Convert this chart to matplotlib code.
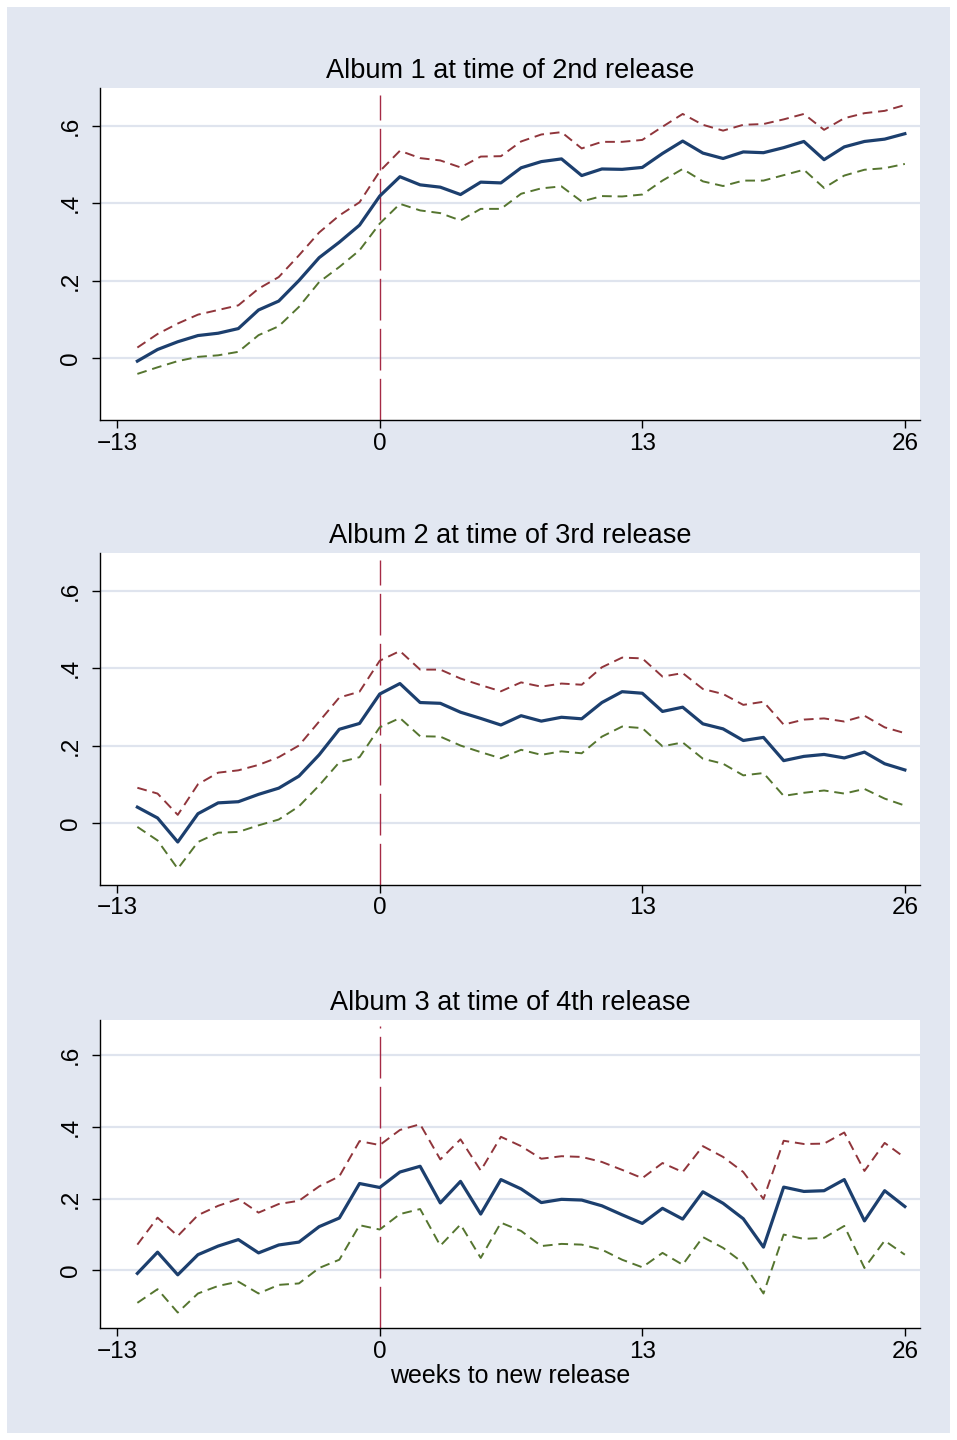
import matplotlib.pyplot as plt
from matplotlib.patches import Rectangle
import numpy as np

plt.rcParams['font.family'] = ['Liberation Sans', 'DejaVu Sans']

weeks = np.arange(-12, 27)

titles = ['Album 1 at time of 2nd release',
          'Album 2 at time of 3rd release',
          'Album 3 at time of 4th release']

est1 = [-0.008, 0.022, 0.042, 0.058, 0.064, 0.076, 0.124, 0.147, 0.200, 0.259,
        0.299, 0.343, 0.418, 0.468, 0.447, 0.441, 0.422, 0.454, 0.452, 0.491,
        0.507, 0.514, 0.471, 0.488, 0.487, 0.492, 0.528, 0.560, 0.529, 0.515,
        0.532, 0.530, 0.543, 0.559, 0.512, 0.545, 0.559, 0.565, 0.579]
hi1 = [0.027, 0.062, 0.089, 0.112, 0.124, 0.136, 0.179, 0.209, 0.265, 0.324,
       0.368, 0.402, 0.482, 0.535, 0.516, 0.510, 0.492, 0.520, 0.521, 0.559,
       0.577, 0.583, 0.541, 0.558, 0.558, 0.563, 0.597, 0.630, 0.602, 0.587,
       0.602, 0.604, 0.616, 0.630, 0.589, 0.619, 0.632, 0.638, 0.653]
lo1 = [-0.041, -0.024, -0.008, 0.003, 0.007, 0.016, 0.059, 0.082, 0.132, 0.196,
       0.235, 0.278, 0.347, 0.398, 0.381, 0.374, 0.355, 0.385, 0.385, 0.424,
       0.438, 0.443, 0.404, 0.418, 0.417, 0.422, 0.458, 0.488, 0.456, 0.444,
       0.458, 0.458, 0.472, 0.486, 0.439, 0.471, 0.486, 0.490, 0.501]

est2 = [0.041, 0.013, -0.049, 0.024, 0.052, 0.055, 0.074, 0.090, 0.121, 0.176,
        0.242, 0.257, 0.333, 0.360, 0.311, 0.309, 0.286, 0.270, 0.253, 0.277,
        0.263, 0.273, 0.269, 0.311, 0.339, 0.335, 0.288, 0.299, 0.256, 0.243,
        0.213, 0.221, 0.161, 0.172, 0.177, 0.168, 0.183, 0.153, 0.137]
hi2 = [0.091, 0.076, 0.021, 0.100, 0.130, 0.136, 0.150, 0.170, 0.200, 0.262,
       0.324, 0.339, 0.419, 0.444, 0.396, 0.396, 0.373, 0.356, 0.340, 0.363,
       0.352, 0.360, 0.357, 0.402, 0.427, 0.425, 0.378, 0.387, 0.346, 0.333,
       0.305, 0.313, 0.254, 0.267, 0.270, 0.262, 0.277, 0.247, 0.232]
lo2 = [-0.010, -0.045, -0.118, -0.049, -0.025, -0.023, -0.006, 0.009, 0.043, 0.097,
       0.157, 0.170, 0.247, 0.271, 0.224, 0.223, 0.200, 0.183, 0.167, 0.189,
       0.176, 0.185, 0.180, 0.223, 0.249, 0.245, 0.198, 0.208, 0.166, 0.153,
       0.123, 0.129, 0.070, 0.078, 0.084, 0.076, 0.088, 0.063, 0.045]

est3 = [-0.008, 0.051, -0.012, 0.044, 0.068, 0.086, 0.049, 0.071, 0.079, 0.122,
        0.146, 0.242, 0.231, 0.274, 0.290, 0.188, 0.248, 0.157, 0.253, 0.227,
        0.189, 0.198, 0.196, 0.180, 0.155, 0.131, 0.173, 0.143, 0.219, 0.187,
        0.144, 0.065, 0.232, 0.220, 0.222, 0.253, 0.138, 0.222, 0.178]
hi3 = [0.072, 0.147, 0.096, 0.154, 0.180, 0.199, 0.161, 0.185, 0.194, 0.234,
       0.262, 0.360, 0.349, 0.391, 0.407, 0.309, 0.365, 0.278, 0.372, 0.346,
       0.311, 0.318, 0.316, 0.302, 0.280, 0.257, 0.299, 0.274, 0.346, 0.316,
       0.274, 0.199, 0.361, 0.352, 0.353, 0.384, 0.277, 0.355, 0.314]
lo3 = [-0.090, -0.052, -0.117, -0.064, -0.043, -0.031, -0.064, -0.040, -0.036, 0.007,
       0.030, 0.126, 0.114, 0.157, 0.171, 0.069, 0.128, 0.035, 0.133, 0.110,
       0.068, 0.074, 0.072, 0.058, 0.030, 0.009, 0.049, 0.016, 0.093, 0.063,
       0.021, -0.064, 0.100, 0.088, 0.091, 0.124, 0.007, 0.083, 0.044]

panels = [(est1, hi1, lo1), (est2, hi2, lo2), (est3, hi3, lo3)]

xticks = [-13, 0, 13, 26]
yticks = [0, 0.2, 0.4, 0.6]
ytick_labels = ['0', '.2', '.4', '.6']

bg = '#e2e7f1'
navy = '#1c3f6e'
maroon = '#90353b'
green = '#55752f'

fig = plt.figure(figsize=(9.57, 14.4), dpi=100, facecolor='white')
fig.patches.append(Rectangle((7 / 957, 7 / 1440), 943 / 957, 1426 / 1440,
                             transform=fig.transFigure, facecolor=bg,
                             edgecolor='none', zorder=-10))

# axes boxes in pixels: (top, bottom)
boxes = [(88, 420), (553, 885), (1020, 1328)]

for i, ((est, hi, lo), (top, bot)) in enumerate(zip(panels, boxes)):
    ax = fig.add_axes([100 / 957, 1 - bot / 1440, 820 / 957, (bot - top) / 1440])
    ax.set_facecolor('white')
    for y in yticks:
        ax.axhline(y, color='#dfe4ee', lw=1.6, zorder=1)
    ax.axvline(0, ymin=0, ymax=0.98, color='#a52a45', lw=1.0,
               dashes=(30, 6), zorder=2)
    ax.plot(weeks, hi, color=maroon, lw=1.4, dashes=(5, 3), zorder=3)
    ax.plot(weeks, lo, color=green, lw=1.4, dashes=(5, 3), zorder=3)
    ax.plot(weeks, est, color=navy, lw=2.3, zorder=4)
    ax.set_xlim(-13.85, 26.75)
    ax.set_ylim(-0.16, 0.697)
    ax.set_xticks(xticks)
    ax.set_xticklabels([str(t).replace('-', '\u2212') for t in xticks])
    ax.set_yticks(yticks)
    ax.set_yticklabels(ytick_labels, rotation=90, va='center')
    ax.tick_params(axis='both', labelsize=17.5, length=6, width=1.0, color='black')
    ax.tick_params(axis='y', pad=7)
    ax.tick_params(axis='x', pad=3)
    for s in ['top', 'right']:
        ax.spines[s].set_visible(False)
    ax.spines['left'].set_linewidth(1.0)
    ax.spines['bottom'].set_linewidth(1.0)
    ax.set_title(titles[i], fontsize=19.5, pad=7)
    if i == 2:
        ax.set_xlabel('weeks to new release', fontsize=18, labelpad=1)

fig.savefig('out.png', dpi=100, facecolor='white')
